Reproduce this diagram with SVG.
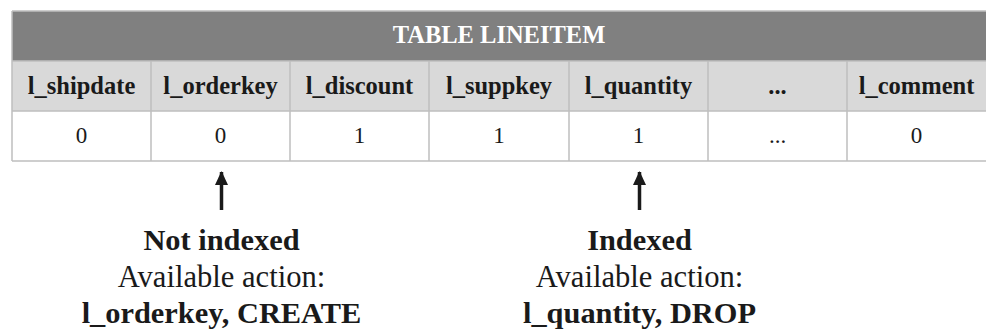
<svg xmlns="http://www.w3.org/2000/svg" width="986" height="329" viewBox="0 0 986 329">
<style>
.grid{stroke:#bfbfbf;stroke-width:1.5;fill:none}
text{font-family:'Liberation Serif',serif;text-anchor:middle;fill:#1a1a1a}
.h{font-size:24.5px;font-weight:bold;fill:#ffffff}
.col{font-size:24.5px;font-weight:bold}
.val{font-size:23px}
.b{font-size:30.4px;font-weight:bold}
.r{font-size:30.6px}
.arrow{stroke:#1a1a1a;stroke-width:3.5;fill:none}
</style>
<defs>
<marker id="ah" viewBox="0 0 14 13" refX="13" refY="6.5" markerWidth="14" markerHeight="13" markerUnits="userSpaceOnUse" orient="auto">
<path d="M0,0 L14,6.5 L0,13 Z" fill="#1a1a1a"/>
</marker>
</defs>
<g id="table">
<rect x="12" y="11" width="980" height="50" fill="#808080"/>
<rect x="12" y="61" width="980" height="50" fill="#d9d9d9"/>
<rect x="12" y="111" width="980" height="50" fill="#ffffff"/>
<path class="grid" d="M12,11 H992 M12,61 H992 M12,111 H992 M12,161 H992 M12,11 V161 M151,61 V161 M290,61 V161 M429,61 V161 M569,61 V161 M708,61 V161 M847,61 V161"/>
<text class="h" x="499" y="43">TABLE LINEITEM</text>
<text class="col" x="81.5" y="94">l_shipdate</text>
<text class="col" x="220.5" y="94">l_orderkey</text>
<text class="col" x="359.5" y="94">l_discount</text>
<text class="col" x="499" y="94">l_suppkey</text>
<text class="col" x="638.5" y="94">l_quantity</text>
<text class="col" x="777.5" y="94">...</text>
<text class="col" x="916.5" y="94">l_comment</text>
<text class="val" x="81.5" y="143">0</text>
<text class="val" x="220.5" y="143">0</text>
<text class="val" x="359.5" y="143">1</text>
<text class="val" x="499" y="143">1</text>
<text class="val" x="638.5" y="143">1</text>
<text class="val" x="777.5" y="143">...</text>
<text class="val" x="916.5" y="143">0</text>
</g>
<g id="connectors">
<line class="arrow" x1="221.5" y1="210" x2="221.5" y2="172" marker-end="url(#ah)"/>
<line class="arrow" x1="639.5" y1="210" x2="639.5" y2="172" marker-end="url(#ah)"/>
</g>
<g id="note-orderkey">
<text class="b" x="221.5" y="250">Not indexed</text>
<text class="r" x="221.5" y="287">Available action:</text>
<text class="b" x="221.5" y="323">l_orderkey, CREATE</text>
</g>
<g id="note-quantity">
<text class="b" x="639.5" y="250">Indexed</text>
<text class="r" x="639.5" y="287">Available action:</text>
<text class="b" x="639.5" y="323">l_quantity, DROP</text>
</g>
</svg>
